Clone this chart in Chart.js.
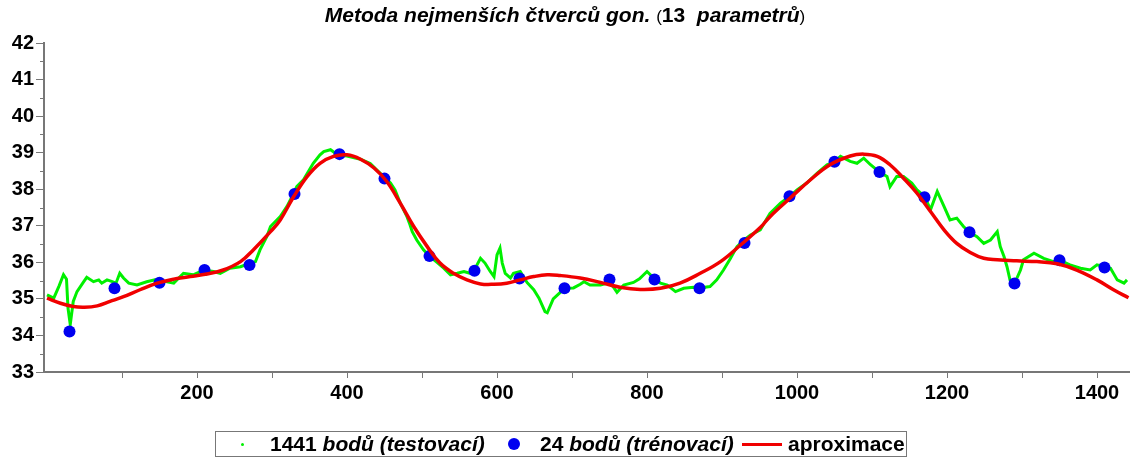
<!DOCTYPE html>
<html>
<head>
<meta charset="utf-8">
<script src="https://cdn.jsdelivr.net/npm/chart.js@4"></script>
<style>
  body { margin: 0; background: #fff; font-family: "Liberation Sans", Arial, sans-serif; }
  #wrap { position: relative; width: 1130px; height: 462px; }
  #title { position: absolute; left: 0; top: 3px; width: 1130px; text-align: center;
           font-size: 21px; font-weight: bold; font-style: italic; color: #000; }
  #title .p { font-style: normal; font-weight: normal; font-size: 17px; }
  #title .n { font-style: normal; }
  #legend { position: absolute; left: 215px; top: 431px; width: 690px; height: 24px;
            border: 1.5px solid #777; font-size: 21px; line-height: 24px; font-weight: bold; color: #000; }
  #legend span { position: absolute; top: 0; white-space: nowrap; }
  #legend i { font-style: italic; }
  .mk { position: absolute; border-radius: 50%; }
</style>
</head>
<body>
<div id="wrap">
  <canvas id="c" width="1130" height="462"></canvas>
  <div id="title">Metoda nejmenších čtverců gon. <span class="p">(</span><span class="n">13</span>&nbsp; parametrů<span class="p">)</span></div>
  <div id="legend">
    <div class="mk" style="left:25px;top:11px;width:3px;height:3px;background:#00f000"></div>
    <span style="left:54px">1441 <i>bodů (testovací)</i></span>
    <div class="mk" style="left:292px;top:6px;width:12px;height:12px;background:#0000f0"></div>
    <span style="left:324px">24 <i>bodů (trénovací)</i></span>
    <div style="position:absolute;left:526px;top:11px;width:40px;height:3px;background:#f00000"></div>
    <span style="left:572px">aproximace</span>
  </div>
</div>
<script>
// osy
const xTicks = [100, 200, 300, 400, 500, 600, 700, 800, 900, 1000, 1100, 1200, 1300, 1400];
const yTicks = [33, 34, 35, 36, 37, 38, 39, 40, 41, 42];

// 24 bodů (trénovací)
const trainX = [30, 90, 150, 210, 270, 330, 390, 450, 510, 570, 630, 690,
                750, 810, 870, 930, 990, 1050, 1110, 1170, 1230, 1290, 1350, 1410];
const trainY = [34.11, 35.29, 35.44, 35.79, 35.93, 37.87, 38.96, 38.29, 36.17, 35.77, 35.56, 35.29,
                35.53, 35.53, 35.29, 36.53, 37.81, 38.75, 38.47, 37.78, 36.82, 35.42, 36.06, 35.86];

// 1441 bodů (testovací)
const testX = [0, 9, 16, 22, 26, 28, 30, 31, 35, 40, 49, 53, 62, 69, 73, 80, 87, 92, 97, 102,
  109, 120, 133, 144, 160, 169, 182, 195, 209, 222, 231, 244, 258, 271, 278, 284, 293, 298, 311, 320,
  329, 333, 342, 355, 364, 369, 378, 384, 392, 400, 418, 431, 444, 458, 464, 471, 480, 484, 487, 493,
  502, 510, 520, 529, 538, 547, 556, 564, 570, 578, 584, 591, 596, 600, 604, 607, 611, 618, 622, 631,
  640, 649, 656, 664, 667, 675, 684, 690, 702, 711, 716, 724, 738, 750, 756, 760, 769, 782, 790, 800,
  807, 818, 827, 838, 849, 862, 870, 884, 893, 902, 911, 920, 929, 938, 951, 964, 978, 990, 1000, 1013,
  1027, 1040, 1050, 1058, 1071, 1080, 1089, 1098, 1110, 1120, 1124, 1133, 1142, 1153, 1160, 1170, 1178, 1187, 1196, 1204,
  1213, 1222, 1230, 1240, 1249, 1258, 1267, 1271, 1276, 1280, 1284, 1290, 1298, 1302, 1316, 1329, 1342, 1350, 1364, 1378,
  1391, 1400, 1410, 1418, 1427, 1436, 1440];
const testY = [35.11, 35.02, 35.35, 35.66, 35.54, 34.75, 34.45, 34.30, 34.93, 35.20, 35.47, 35.59, 35.47, 35.52, 35.43, 35.52, 35.47, 35.43, 35.70, 35.57,
  35.43, 35.38, 35.47, 35.52, 35.47, 35.43, 35.70, 35.66, 35.79, 35.75, 35.70, 35.84, 35.88, 35.98, 36.02, 36.34, 36.70, 36.98, 37.25, 37.53,
  37.89, 38.07, 38.26, 38.71, 38.94, 39.03, 39.08, 38.99, 38.93, 38.91, 38.82, 38.70, 38.44, 38.17, 37.98, 37.62, 37.25, 37.03, 36.84, 36.61,
  36.34, 36.17, 36.00, 35.84, 35.66, 35.70, 35.75, 35.70, 35.80, 36.11, 35.98, 35.75, 35.61, 36.20, 36.39, 35.98, 35.70, 35.57, 35.70, 35.75,
  35.45, 35.25, 35.02, 34.65, 34.62, 35.00, 35.17, 35.29, 35.30, 35.40, 35.47, 35.38, 35.38, 35.45, 35.30, 35.18, 35.38, 35.45, 35.55, 35.75,
  35.61, 35.43, 35.38, 35.20, 35.29, 35.32, 35.30, 35.34, 35.52, 35.79, 36.10, 36.43, 36.61, 36.75, 36.89, 37.34, 37.62, 37.80, 37.98, 38.17,
  38.44, 38.67, 38.75, 38.90, 38.76, 38.71, 38.85, 38.67, 38.47, 38.35, 38.07, 38.35, 38.35, 38.17, 37.98, 37.80, 37.44, 37.94, 37.53, 37.16,
  37.21, 36.98, 36.82, 36.70, 36.52, 36.61, 36.84, 36.43, 36.16, 35.88, 35.52, 35.42, 35.79, 36.07, 36.25, 36.11, 36.02, 36.06, 35.93, 35.84,
  35.79, 35.93, 35.88, 35.84, 35.52, 35.43, 35.52];

// aproximace (13 parametrů)
const fitX = [0, 18, 35, 50, 67, 84, 102, 124, 147, 169, 191, 213, 235, 258, 275, 298, 311, 329, 347, 364,
  382, 400, 418, 436, 453, 471, 489, 507, 524, 542, 560, 578, 596, 613, 631, 649, 667, 684, 711, 738,
  764, 791, 818, 844, 871, 898, 924, 951, 964, 991, 1018, 1044, 1071, 1089, 1107, 1124, 1142, 1160, 1178, 1196,
  1213, 1231, 1249, 1267, 1293, 1320, 1347, 1373, 1400, 1422, 1442];
const fitY = [35.02, 34.88, 34.79, 34.77, 34.81, 34.93, 35.06, 35.25, 35.43, 35.54, 35.61, 35.68, 35.79, 36.02, 36.34, 36.84, 37.16, 37.80, 38.35, 38.71,
  38.90, 38.94, 38.82, 38.58, 38.21, 37.62, 36.98, 36.43, 35.98, 35.70, 35.52, 35.41, 35.40, 35.43, 35.52, 35.61, 35.66, 35.64, 35.57, 35.45,
  35.32, 35.26, 35.29, 35.43, 35.70, 36.02, 36.46, 36.95, 37.25, 37.76, 38.26, 38.67, 38.91, 38.96, 38.90, 38.67, 38.30, 37.89, 37.39, 36.89,
  36.52, 36.27, 36.11, 36.07, 36.04, 36.02, 35.96, 35.79, 35.52, 35.25, 35.03];

const pts = (xs, ys) => xs.map((x, i) => ({ x: x, y: ys[i] }));

const axisColor = '#777';
const tickFont = { family: '"Liberation Sans", Arial, sans-serif', size: 20, weight: 'bold' };

// kratší vedlejší značky na ose y (po 0.5)
const minorTicks = {
  id: 'minorTicks',
  afterDraw(chart) {
    const ctx = chart.ctx, y = chart.scales.y;
    ctx.save();
    ctx.strokeStyle = axisColor;
    ctx.lineWidth = 1;
    for (let i = 0; i < yTicks.length - 1; i++) {
      const py = Math.round(y.getPixelForValue(yTicks[i] + 0.5)) + 0.5;
      ctx.beginPath();
      ctx.moveTo(y.right - 4, py);
      ctx.lineTo(y.right, py);
      ctx.stroke();
    }
    ctx.restore();
  }
};

new Chart(document.getElementById('c'), {
  type: 'scatter',
  data: {
    datasets: [
      { label: 'aproximace', data: pts(fitX, fitY), showLine: true, borderColor: '#f00000',
        borderWidth: 3.5, pointRadius: 0, tension: 0.4, order: 0 },
      { label: '24 bodů (trénovací)', data: pts(trainX, trainY), backgroundColor: '#0000f0',
        borderWidth: 0, pointRadius: 6, order: 1 },
      { label: '1441 bodů (testovací)', data: pts(testX, testY), showLine: true, borderColor: '#00f000',
        borderWidth: 3, pointRadius: 0, tension: 0, order: 2 }
    ]
  },
  options: {
    responsive: false,
    animation: false,
    layout: { autoPadding: false, padding: { top: 43, right: 0, bottom: 0, left: 0 } },
    plugins: { legend: { display: false }, title: { display: false }, tooltip: { enabled: false } },
    scales: {
      x: {
        type: 'linear', min: -4, max: 1444,
        afterBuildTicks: s => { s.ticks = xTicks.map(v => ({ value: v })); },
        afterFit: s => { s.height = 90; s.paddingLeft = 0; s.paddingRight = 0; },
        border: { color: axisColor, width: 2 },
        grid: { drawOnChartArea: false, tickLength: 6, color: axisColor },
        ticks: { autoSkip: false, maxRotation: 0, padding: 3, color: '#000', font: tickFont,
                 callback: v => (v % 200 === 0 ? v : '') }
      },
      y: {
        min: 33, max: 42,
        afterBuildTicks: s => { s.ticks = yTicks.map(v => ({ value: v })); },
        afterFit: s => { s.width = 44; },
        border: { color: axisColor, width: 2 },
        grid: { drawOnChartArea: false, tickLength: 8, color: axisColor },
        ticks: { padding: 2, color: '#000', font: tickFont }
      }
    }
  },
  plugins: [minorTicks]
});
</script>
</body>
</html>
